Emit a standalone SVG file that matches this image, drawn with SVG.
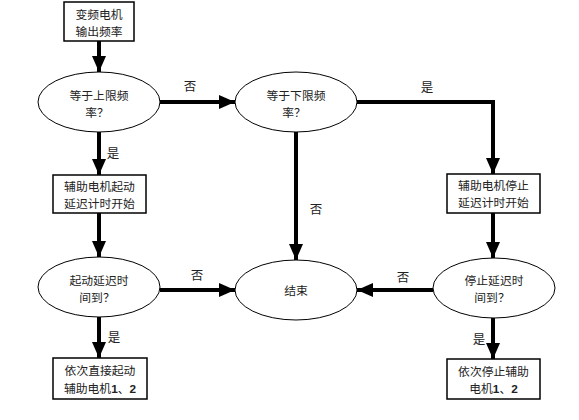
<svg xmlns="http://www.w3.org/2000/svg" width="579" height="420" viewBox="0 0 579 420">
<style>
.box{fill:#fff;stroke:#000;stroke-width:1.5}
.ell{fill:#fff;stroke:#000;stroke-width:1}
.t{font-family:"Noto Sans CJK SC","Liberation Sans",sans-serif;font-size:11.8px;fill:#222;text-anchor:middle}
.l{font-family:"Noto Sans CJK SC","Liberation Sans",sans-serif;font-size:12.5px;fill:#222;text-anchor:middle}
.b{font-family:"Liberation Sans",sans-serif;font-weight:bold}
.c{fill:none;stroke:#000;stroke-width:4}
</style>
<defs>
<marker id="ah" markerUnits="userSpaceOnUse" markerWidth="16" markerHeight="14" refX="16" refY="7" orient="auto">
<path d="M0,0 L16,7 L0,14 Z" fill="#000"/>
</marker>
</defs>
<g id="connectors">
<path class="c" d="M99,41 V72" marker-end="url(#ah)"/>
<path class="c" d="M160,102 H235" marker-end="url(#ah)"/>
<path class="c" d="M357,102 H493 V174" marker-end="url(#ah)"/>
<path class="c" d="M99,132 V175" marker-end="url(#ah)"/>
<path class="c" d="M296,132 V260" marker-end="url(#ah)"/>
<path class="c" d="M99,213 V257" marker-end="url(#ah)"/>
<path class="c" d="M493,213 V258" marker-end="url(#ah)"/>
<path class="c" d="M160,290 H235" marker-end="url(#ah)"/>
<path class="c" d="M433,290 H357" marker-end="url(#ah)"/>
<path class="c" d="M99,317 V358" marker-end="url(#ah)"/>
<path class="c" d="M493,318 V359" marker-end="url(#ah)"/>
<text class="l" x="190" y="91">否</text>
<text class="l" x="427" y="92">是</text>
<text class="l" x="113" y="158">是</text>
<text class="l" x="316" y="214">否</text>
<text class="l" x="197" y="280">否</text>
<text class="l" x="403" y="282">否</text>
<text class="l" x="114" y="342">是</text>
<text class="l" x="479" y="344">是</text>
</g>
<g id="start">
<rect class="box" x="64" y="2" width="70" height="39"/>
<text class="t" x="99" y="19">变频电机</text>
<text class="t" x="99" y="36.2">输出频率</text>
</g>
<g id="upper">
<ellipse class="ell" cx="99" cy="102" rx="61" ry="30"/>
<text class="t" x="99" y="100">等于上限频</text>
<text class="t" x="97" y="117.2">率？</text>
</g>
<g id="lower">
<ellipse class="ell" cx="296" cy="102" rx="61" ry="30"/>
<text class="t" x="296" y="100">等于下限频</text>
<text class="t" x="294" y="117.2">率？</text>
</g>
<g id="startDelay">
<rect class="box" x="53" y="175" width="93" height="38"/>
<text class="t" x="99.5" y="191">辅助电机起动</text>
<text class="t" x="99.5" y="208.2">延迟计时开始</text>
</g>
<g id="stopDelay">
<rect class="box" x="447" y="174" width="93" height="39"/>
<text class="t" x="493.5" y="190">辅助电机停止</text>
<text class="t" x="493.5" y="207.2">延迟计时开始</text>
</g>
<g id="startCheck">
<ellipse class="ell" cx="99" cy="287" rx="61" ry="30"/>
<text class="t" x="99" y="284.5">起动延迟时</text>
<text class="t" x="97" y="301.7">间到？</text>
</g>
<g id="end">
<ellipse class="ell" cx="296" cy="290" rx="61" ry="30"/>
<text class="t" x="296" y="294.5">结束</text>
</g>
<g id="stopCheck">
<ellipse class="ell" cx="494" cy="288" rx="61" ry="30"/>
<text class="t" x="494" y="284.5">停止延迟时</text>
<text class="t" x="492" y="301.7">间到？</text>
</g>
<g id="startMotors">
<rect class="box" x="53" y="358" width="94" height="41"/>
<text class="t" x="100" y="375">依次直接起动</text>
<text class="t" x="100" y="393">辅助电机<tspan class="b">1</tspan>、<tspan class="b">2</tspan></text>
</g>
<g id="stopMotors">
<rect class="box" x="447" y="359" width="93" height="40"/>
<text class="t" x="493.5" y="376">依次停止辅助</text>
<text class="t" x="493.5" y="393">电机<tspan class="b">1</tspan>、<tspan class="b">2</tspan></text>
</g>
</svg>
